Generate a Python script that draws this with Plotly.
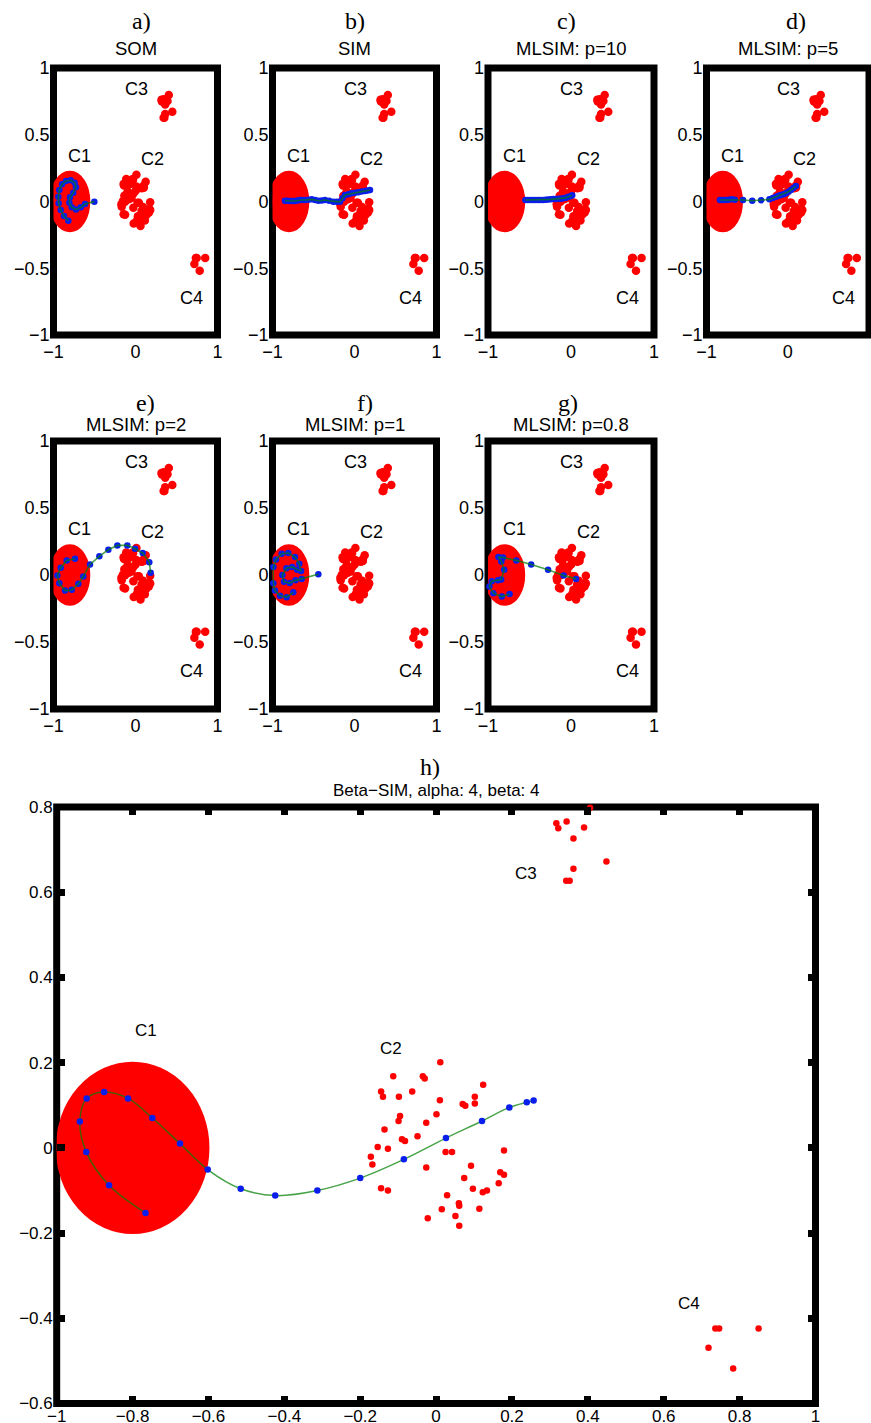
import plotly.graph_objects as go

# ---------------- data ----------------
# cluster C1: dense uniform disk
C1_CX, C1_CY, C1_R = -0.8, 0.0, 0.2

# cluster C2 (scattered points)
c2_x = [0.011, -0.113, -0.035, -0.030, -0.145, -0.140, -0.063, -0.098, 0.010, 0.124,
        0.102, 0.070, 0.077, 0.102, 0.001, -0.095, -0.099, -0.026, -0.136, -0.049,
        -0.090, -0.082, -0.154, -0.127, -0.172, -0.168, 0.025, 0.042, 0.179, -0.026,
        0.092, 0.169, 0.179, 0.074, 0.165, -0.145, -0.127, 0.097, 0.123, 0.134,
        0.029, 0.060, 0.061, 0.015, 0.114, -0.022, 0.051, 0.061]
c2_y = [0.201, 0.168, 0.168, 0.163, 0.132, 0.120, 0.132, 0.120, 0.112, 0.148,
        0.120, 0.103, 0.099, 0.104, 0.079, 0.075, 0.063, 0.059, 0.043, 0.027,
        0.020, 0.016, 0.002, -0.002, -0.021, -0.039, -0.010, -0.010, -0.006, -0.046,
        -0.042, -0.057, -0.063, -0.071, -0.083, -0.095, -0.100, -0.096, -0.104, -0.100,
        -0.111, -0.130, -0.136, -0.144, -0.143, -0.165, -0.160, -0.183]

# cluster C3
c3_x = [0.406, 0.317, 0.322, 0.344, 0.390, 0.362, 0.449, 0.362, 0.343, 0.352]
c3_y = [0.798, 0.762, 0.750, 0.766, 0.752, 0.726, 0.672, 0.655, 0.627, 0.627]

# cluster C4
c4_x = [0.736, 0.746, 0.850, 0.718, 0.783]
c4_y = [-0.424, -0.424, -0.424, -0.469, -0.518]

# node chains of each method
som_x = [-0.819, -0.872, -0.912, -0.937, -0.941, -0.929, -0.896, -0.848, -0.791, -0.742,
         -0.726, -0.759, -0.799, -0.807, -0.778, -0.726, -0.668, -0.616, -0.502]
som_y = [-0.144, -0.109, -0.064, -0.014, 0.036, 0.086, 0.129, 0.154, 0.159, 0.141,
         0.106, 0.066, 0.031, -0.009, -0.044, -0.059, -0.044, -0.019, -0.001]

sim_x = [-0.848, -0.815, -0.787, -0.756, -0.726, -0.695, -0.665, -0.635, -0.604, -0.563,
         -0.522, -0.481, -0.441, -0.400, -0.360, -0.309, -0.258, -0.217, -0.177, -0.146,
         -0.116, -0.075, -0.035, 0.006, 0.047, 0.088, 0.128, 0.160, 0.189]
sim_y = [0.006, 0.005, 0.004, 0.004, 0.004, 0.008, 0.011, 0.011, 0.011, 0.014,
         0.016, 0.011, 0.006, 0.008, 0.011, 0.005, -0.001, -0.001, -0.001, 0.024,
         0.049, 0.055, 0.061, 0.065, 0.069, 0.074, 0.079, 0.083, 0.086]

p10_x = [-0.549, -0.519, -0.488, -0.458, -0.427, -0.397, -0.366, -0.335, -0.305, -0.275,
         -0.244, -0.214, -0.183, -0.153, -0.122, -0.092, -0.061, -0.030, 0.000, 0.015]
p10_y = [0.011, 0.011, 0.011, 0.011, 0.011, 0.011, 0.011, 0.012, 0.013, 0.015,
         0.016, 0.018, 0.019, 0.020, 0.021, 0.025, 0.029, 0.035, 0.041, 0.046]

p5_x = [-0.835, -0.805, -0.774, -0.734, -0.693, -0.652, -0.551, -0.437, -0.327, -0.226,
        -0.185, -0.144, -0.114, -0.083, -0.052, -0.022, 0.009, 0.039, 0.070, 0.100]
p5_y = [0.011, 0.011, 0.011, 0.013, 0.016, 0.014, 0.011, 0.006, 0.009, 0.016,
        0.026, 0.036, 0.043, 0.049, 0.055, 0.061, 0.073, 0.086, 0.101, 0.116]

p2_x = [-0.738, -0.839, -0.912, -0.953, -0.929, -0.860, -0.778, -0.697, -0.637, -0.555,
        -0.441, -0.331, -0.221, -0.100, -0.006, 0.088, 0.168, 0.185]
p2_y = [0.121, 0.109, 0.054, -0.004, -0.061, -0.116, -0.111, -0.066, -0.011, 0.079,
        0.139, 0.189, 0.221, 0.221, 0.196, 0.164, 0.096, 0.016]

p1_x = [-0.746, -0.827, -0.909, -0.970, -0.990, -0.990, -0.957, -0.888, -0.807, -0.726,
        -0.673, -0.652, -0.700, -0.760, -0.830, -0.880, -0.860, -0.790, -0.720, -0.644,
        -0.441]
p1_y = [-0.129, -0.166, -0.154, -0.116, -0.061, 0.059, 0.116, 0.159, 0.164, 0.134,
        0.084, 0.029, 0.040, 0.060, 0.050, 0.000, -0.050, -0.060, -0.040, -0.029,
        0.006]

p08_x = [-0.740, -0.833, -0.935, -0.984, -0.955, -0.880, -0.841, -0.805, -0.840, -0.874,
         -0.820, -0.659, -0.480, -0.276, -0.089, 0.061]
p08_y = [-0.141, -0.161, -0.136, -0.086, -0.046, -0.040, -0.034, 0.039, 0.100, 0.134,
         0.130, 0.109, 0.079, 0.039, -0.004, -0.029]

beta_x = [-0.766, -0.862, -0.922, -0.939, -0.921, -0.875, -0.812, -0.748, -0.675, -0.602,
          -0.515, -0.424, -0.313, -0.200, -0.085, 0.026, 0.121, 0.193, 0.239, 0.257]
beta_y = [-0.153, -0.088, -0.010, 0.062, 0.116, 0.131, 0.116, 0.070, 0.010, -0.051,
          -0.096, -0.112, -0.100, -0.071, -0.027, 0.023, 0.063, 0.095, 0.107, 0.111]

letters = ["a)", "b)", "c)", "d)", "e)", "f)", "g)", "h)"]
titles = ["SOM", "SIM", "MLSIM: p=10", "MLSIM: p=5", "MLSIM: p=2", "MLSIM: p=1",
          "MLSIM: p=0.8", "Beta\u2212SIM, alpha: 4, beta: 4"]
chains = [(som_x, som_y), (sim_x, sim_y), (p10_x, p10_y), (p5_x, p5_y),
          (p2_x, p2_y), (p1_x, p1_y), (p08_x, p08_y), (beta_x, beta_y)]

cluster_names = ["C1", "C2", "C3", "C4"]
small_label_x = [-0.68, 0.21, 0.01, 0.68]
small_label_y = [0.34, 0.32, 0.84, -0.72]
big_label_x = [-0.765, -0.12, 0.237, 0.666]
big_label_y = [0.275, 0.233, 0.644, -0.366]

small_ticks = [-1, -0.5, 0, 0.5, 1]
big_xticks = [-1, -0.8, -0.6, -0.4, -0.2, 0, 0.2, 0.4, 0.6, 0.8, 1]
big_yticks = [-0.6, -0.4, -0.2, 0, 0.2, 0.4, 0.6, 0.8]

# ---------------- layout geometry (pixels) ----------------
W, H = 871, 1423
col_px = [(53.5, 217.5), (272.5, 436.5), (488, 654), (706.5, 869)]
row1_px = (68, 335)
row2_px = (441, 709)
big_px = ((56.7, 815.5), (807, 1403.5))
letter_px = [(141.7, 21), (355, 21), (566.7, 21), (796, 21),
             (145, 403), (365, 403), (568, 403), (430, 767)]
title_py = [48.5] * 4 + [424] * 3 + [790]

def xdom(a, b):
    return [a / W, b / W]

def ydom(top, bottom):
    return [1 - bottom / H, 1 - top / H]

panels = []
for i in range(4):
    panels.append((xdom(*col_px[i]), ydom(*row1_px)))
for i in range(3):
    panels.append((xdom(*col_px[i]), ydom(*row2_px)))
panels.append((xdom(*big_px[0]), ydom(*big_px[1])))

RED = "rgb(255,0,0)"
BLUE = "rgb(10,30,235)"
GREEN = "rgba(0,128,0,0.72)"
SANS = "Liberation Sans, Arial, Helvetica, sans-serif"
SERIF = "Liberation Serif, Times New Roman, serif"

fig = go.Figure()
shapes = []
annotations = []
layout_axes = {}

for k, (xd, yd) in enumerate(panels):
    n = k + 1
    xa = "x" if n == 1 else f"x{n}"
    ya = "y" if n == 1 else f"y{n}"
    xname = "xaxis" if n == 1 else f"xaxis{n}"
    yname = "yaxis" if n == 1 else f"yaxis{n}"
    big = (k == 7)

    if big:
        xr, yr = [-1, 1], [-0.6, 0.8]
        xt, yt = big_xticks, big_yticks
        fsz = 17
    else:
        xr, yr = [-1, 1], [-1, 1]
        xt, yt = [-1, 0, 1], small_ticks
        fsz = 18

    common = dict(showgrid=False, zeroline=False, showline=False, automargin=False,
                  tickfont=dict(family=SANS, size=fsz, color="black"),
                  fixedrange=True)
    if big:
        tickstyle = dict(ticks="inside", ticklen=8, tickwidth=7, tickcolor="black",
                         mirror="allticks")
    else:
        tickstyle = dict(ticks="")
    layout_axes[xname] = dict(domain=xd, range=xr, tickvals=xt, anchor=ya,
                              ticklabelstandoff=0 if big else 4, **common, **tickstyle)
    layout_axes[yname] = dict(domain=yd, range=yr, tickvals=yt, anchor=xa,
                              ticklabelstandoff=3, **common, **tickstyle)

    frame = dict(type="rect", xref=f"{xa} domain", yref=f"{ya} domain",
                 x0=0, x1=1, y0=0, y1=1, line=dict(color="black", width=7),
                 fillcolor="rgba(0,0,0,0)", layer="below")
    blob = dict(type="circle", xref=xa, yref=ya,
                x0=C1_CX - C1_R, x1=C1_CX + C1_R, y0=C1_CY - C1_R, y1=C1_CY + C1_R,
                fillcolor=RED, line=dict(color=RED, width=2 if big else 8), layer="below")
    if big:
        shapes += [blob, frame]
    else:
        shapes += [frame, blob]

    rsize = 6.5 if big else 8.5
    for cx, cy in [(c2_x, c2_y), (c3_x, c3_y), (c4_x, c4_y)]:
        fig.add_trace(go.Scatter(x=cx, y=cy, mode="markers", xaxis=xa, yaxis=ya,
                                 marker=dict(color=RED, size=rsize, line=dict(width=0)),
                                 cliponaxis=False, showlegend=False, hoverinfo="skip"))

    chx, chy = chains[k]
    if big:
        fig.add_trace(go.Scatter(x=chx, y=chy, mode="lines", xaxis=xa, yaxis=ya,
                                 line=dict(color=GREEN, width=1.5, shape="spline"),
                                 showlegend=False, hoverinfo="skip"))
        fig.add_trace(go.Scatter(x=chx, y=chy, mode="markers", xaxis=xa, yaxis=ya,
                                 marker=dict(color=BLUE, size=6.5, line=dict(width=0)),
                                 cliponaxis=False, showlegend=False, hoverinfo="skip"))
    else:
        fig.add_trace(go.Scatter(x=chx, y=chy, mode="markers", xaxis=xa, yaxis=ya,
                                 marker=dict(color=BLUE, size=6.5, line=dict(width=0)),
                                 cliponaxis=False, showlegend=False, hoverinfo="skip"))
        fig.add_trace(go.Scatter(x=chx, y=chy, mode="lines", xaxis=xa, yaxis=ya,
                                 line=dict(color=GREEN, width=1.6),
                                 showlegend=False, hoverinfo="skip"))

    lx, ly = (big_label_x, big_label_y) if big else (small_label_x, small_label_y)
    for name, tx, ty in zip(cluster_names, lx, ly):
        annotations.append(dict(x=tx, y=ty, xref=xa, yref=ya, text=name, showarrow=False,
                                xanchor="center", yanchor="middle",
                                font=dict(family=SANS, size=17 if big else 18, color="black")))

    # panel letter and title
    xc = (xd[0] + xd[1]) / 2
    lpx, lpy = letter_px[k]
    annotations.append(dict(x=lpx / W, y=1 - lpy / H, xref="paper", yref="paper",
                            text=letters[k], showarrow=False,
                            xanchor="center", yanchor="middle",
                            font=dict(family=SERIF, size=24, color="black")))
    annotations.append(dict(x=xc, y=1 - title_py[k] / H, xref="paper", yref="paper",
                            text=titles[k], showarrow=False,
                            xanchor="center", yanchor="middle",
                            font=dict(family=SANS, size=17 if big else 18.5, color="black")))

fig.update_layout(width=W, height=H, autosize=False,
                  margin=dict(l=0, r=0, t=0, b=0, pad=0),
                  paper_bgcolor="white", plot_bgcolor="rgba(0,0,0,0)",
                  shapes=shapes, annotations=annotations, showlegend=False,
                  **layout_axes)

fig.write_html("out.html", config={"displayModeBar": False, "staticPlot": True})
